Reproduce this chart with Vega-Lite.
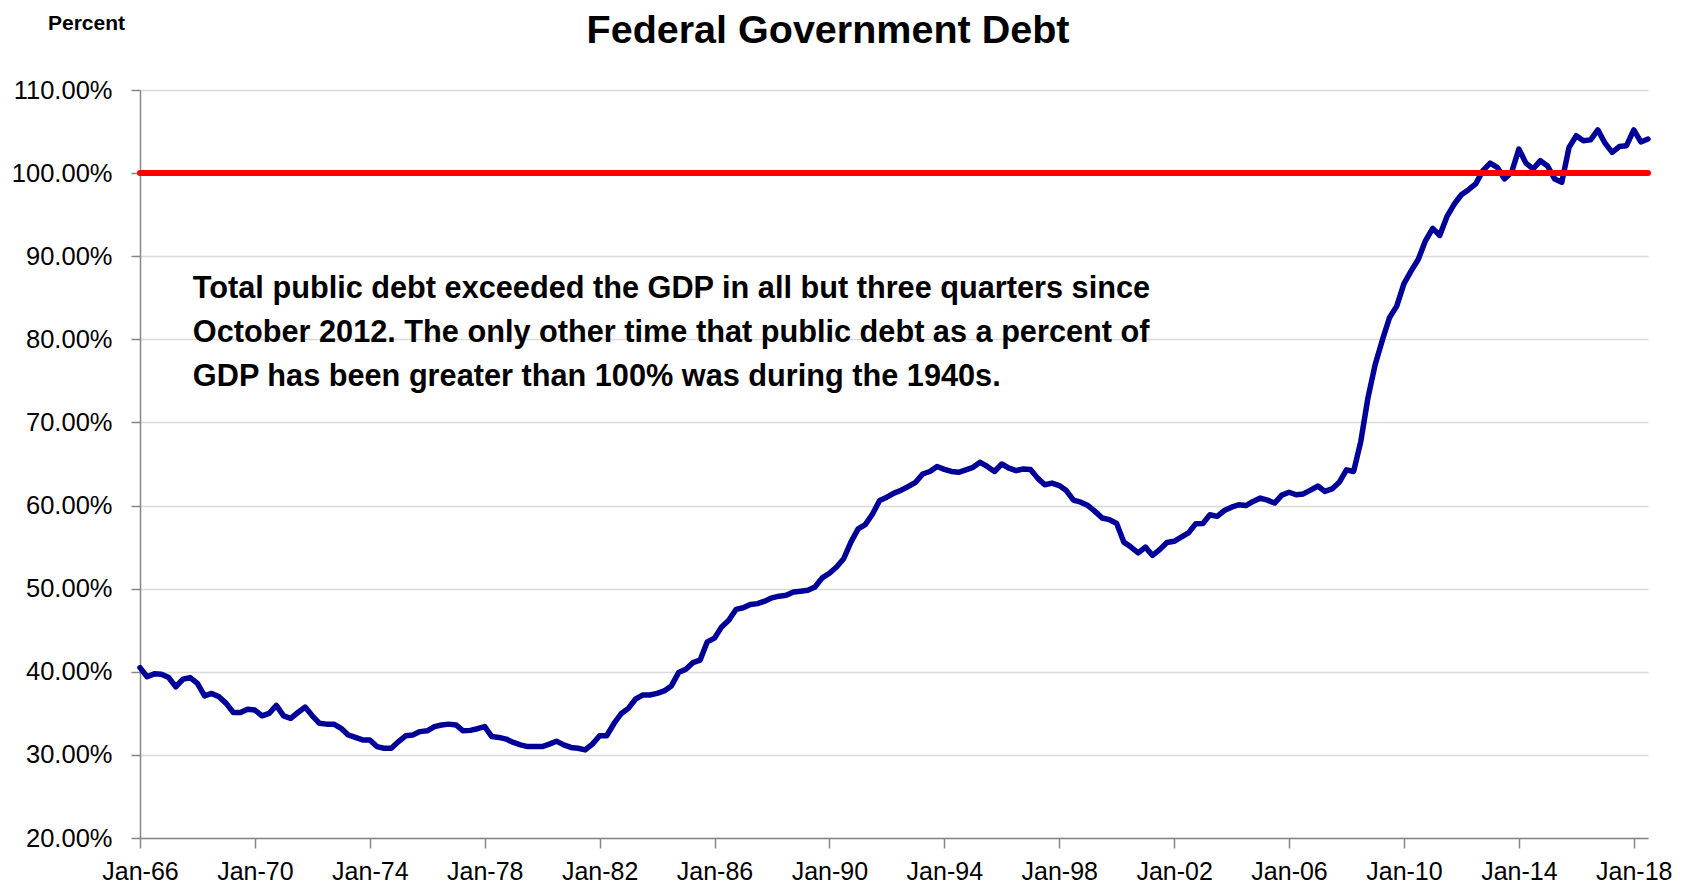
{
  "$schema": "https://vega.github.io/schema/vega-lite/v6.json",
  "width": 1508,
  "height": 748,
  "autosize": {"type": "none"},
  "padding": {"left": 140, "top": 90, "right": 46, "bottom": 51},
  "background": "white",
  "config": {
    "view": {"stroke": null},
    "font": "Liberation Sans, Arial, sans-serif"
  },
  "title": {
    "text": "Federal Government Debt",
    "fontSize": 39.5,
    "fontWeight": "bold",
    "color": "black",
    "anchor": "middle",
    "dx": -66,
    "dy": 39,
    "offset": 0
  },
  "datasets": {
    "debt": [
      {"date": "1966-01-01", "debt": 40.5}, {"date": "1966-04-01", "debt": 39.4}, {"date": "1966-07-01", "debt": 39.75}, {"date": "1966-10-01", "debt": 39.7},
      {"date": "1967-01-01", "debt": 39.3}, {"date": "1967-04-01", "debt": 38.2}, {"date": "1967-07-01", "debt": 39.1}, {"date": "1967-10-01", "debt": 39.3},
      {"date": "1968-01-01", "debt": 38.6}, {"date": "1968-04-01", "debt": 37.1}, {"date": "1968-07-01", "debt": 37.4}, {"date": "1968-10-01", "debt": 37.0},
      {"date": "1969-01-01", "debt": 36.2}, {"date": "1969-04-01", "debt": 35.1}, {"date": "1969-07-01", "debt": 35.1}, {"date": "1969-10-01", "debt": 35.5},
      {"date": "1970-01-01", "debt": 35.4}, {"date": "1970-04-01", "debt": 34.7}, {"date": "1970-07-01", "debt": 35.0}, {"date": "1970-10-01", "debt": 35.95},
      {"date": "1971-01-01", "debt": 34.7}, {"date": "1971-04-01", "debt": 34.4}, {"date": "1971-07-01", "debt": 35.1}, {"date": "1971-10-01", "debt": 35.75},
      {"date": "1972-01-01", "debt": 34.7}, {"date": "1972-04-01", "debt": 33.8}, {"date": "1972-07-01", "debt": 33.7}, {"date": "1972-10-01", "debt": 33.7},
      {"date": "1973-01-01", "debt": 33.2}, {"date": "1973-04-01", "debt": 32.4}, {"date": "1973-07-01", "debt": 32.1}, {"date": "1973-10-01", "debt": 31.8},
      {"date": "1974-01-01", "debt": 31.8}, {"date": "1974-04-01", "debt": 31.0}, {"date": "1974-07-01", "debt": 30.8}, {"date": "1974-10-01", "debt": 30.8},
      {"date": "1975-01-01", "debt": 31.6}, {"date": "1975-04-01", "debt": 32.3}, {"date": "1975-07-01", "debt": 32.4}, {"date": "1975-10-01", "debt": 32.8},
      {"date": "1976-01-01", "debt": 32.9}, {"date": "1976-04-01", "debt": 33.4}, {"date": "1976-07-01", "debt": 33.6}, {"date": "1976-10-01", "debt": 33.7},
      {"date": "1977-01-01", "debt": 33.6}, {"date": "1977-04-01", "debt": 32.9}, {"date": "1977-07-01", "debt": 32.95}, {"date": "1977-10-01", "debt": 33.15},
      {"date": "1978-01-01", "debt": 33.4}, {"date": "1978-04-01", "debt": 32.2}, {"date": "1978-07-01", "debt": 32.1}, {"date": "1978-10-01", "debt": 31.9},
      {"date": "1979-01-01", "debt": 31.5}, {"date": "1979-04-01", "debt": 31.2}, {"date": "1979-07-01", "debt": 31.0}, {"date": "1979-10-01", "debt": 31.0},
      {"date": "1980-01-01", "debt": 31.0}, {"date": "1980-04-01", "debt": 31.3}, {"date": "1980-07-01", "debt": 31.65}, {"date": "1980-10-01", "debt": 31.2},
      {"date": "1981-01-01", "debt": 30.9}, {"date": "1981-04-01", "debt": 30.8}, {"date": "1981-07-01", "debt": 30.6}, {"date": "1981-10-01", "debt": 31.3},
      {"date": "1982-01-01", "debt": 32.3}, {"date": "1982-04-01", "debt": 32.3}, {"date": "1982-07-01", "debt": 33.75}, {"date": "1982-10-01", "debt": 34.95},
      {"date": "1983-01-01", "debt": 35.6}, {"date": "1983-04-01", "debt": 36.7}, {"date": "1983-07-01", "debt": 37.2}, {"date": "1983-10-01", "debt": 37.2},
      {"date": "1984-01-01", "debt": 37.4}, {"date": "1984-04-01", "debt": 37.7}, {"date": "1984-07-01", "debt": 38.3}, {"date": "1984-10-01", "debt": 39.9},
      {"date": "1985-01-01", "debt": 40.3}, {"date": "1985-04-01", "debt": 41.1}, {"date": "1985-07-01", "debt": 41.4}, {"date": "1985-10-01", "debt": 43.6},
      {"date": "1986-01-01", "debt": 44.05}, {"date": "1986-04-01", "debt": 45.4}, {"date": "1986-07-01", "debt": 46.2}, {"date": "1986-10-01", "debt": 47.5},
      {"date": "1987-01-01", "debt": 47.7}, {"date": "1987-04-01", "debt": 48.1}, {"date": "1987-07-01", "debt": 48.2}, {"date": "1987-10-01", "debt": 48.5},
      {"date": "1988-01-01", "debt": 48.9}, {"date": "1988-04-01", "debt": 49.1}, {"date": "1988-07-01", "debt": 49.2}, {"date": "1988-10-01", "debt": 49.6},
      {"date": "1989-01-01", "debt": 49.7}, {"date": "1989-04-01", "debt": 49.8}, {"date": "1989-07-01", "debt": 50.2}, {"date": "1989-10-01", "debt": 51.3},
      {"date": "1990-01-01", "debt": 51.85}, {"date": "1990-04-01", "debt": 52.6}, {"date": "1990-07-01", "debt": 53.6}, {"date": "1990-10-01", "debt": 55.6},
      {"date": "1991-01-01", "debt": 57.2}, {"date": "1991-04-01", "debt": 57.7}, {"date": "1991-07-01", "debt": 58.95}, {"date": "1991-10-01", "debt": 60.6},
      {"date": "1992-01-01", "debt": 61.0}, {"date": "1992-04-01", "debt": 61.5}, {"date": "1992-07-01", "debt": 61.85}, {"date": "1992-10-01", "debt": 62.3},
      {"date": "1993-01-01", "debt": 62.8}, {"date": "1993-04-01", "debt": 63.8}, {"date": "1993-07-01", "debt": 64.1}, {"date": "1993-10-01", "debt": 64.7},
      {"date": "1994-01-01", "debt": 64.35}, {"date": "1994-04-01", "debt": 64.1}, {"date": "1994-07-01", "debt": 64.0}, {"date": "1994-10-01", "debt": 64.3},
      {"date": "1995-01-01", "debt": 64.6}, {"date": "1995-04-01", "debt": 65.2}, {"date": "1995-07-01", "debt": 64.7}, {"date": "1995-10-01", "debt": 64.1},
      {"date": "1996-01-01", "debt": 65.0}, {"date": "1996-04-01", "debt": 64.5}, {"date": "1996-07-01", "debt": 64.2}, {"date": "1996-10-01", "debt": 64.4},
      {"date": "1997-01-01", "debt": 64.35}, {"date": "1997-04-01", "debt": 63.3}, {"date": "1997-07-01", "debt": 62.5}, {"date": "1997-10-01", "debt": 62.7},
      {"date": "1998-01-01", "debt": 62.4}, {"date": "1998-04-01", "debt": 61.8}, {"date": "1998-07-01", "debt": 60.65}, {"date": "1998-10-01", "debt": 60.4},
      {"date": "1999-01-01", "debt": 60.0}, {"date": "1999-04-01", "debt": 59.3}, {"date": "1999-07-01", "debt": 58.5}, {"date": "1999-10-01", "debt": 58.3},
      {"date": "2000-01-01", "debt": 57.85}, {"date": "2000-04-01", "debt": 55.6}, {"date": "2000-07-01", "debt": 55.0}, {"date": "2000-10-01", "debt": 54.3},
      {"date": "2001-01-01", "debt": 55.0}, {"date": "2001-04-01", "debt": 54.0}, {"date": "2001-07-01", "debt": 54.7}, {"date": "2001-10-01", "debt": 55.55},
      {"date": "2002-01-01", "debt": 55.7}, {"date": "2002-04-01", "debt": 56.2}, {"date": "2002-07-01", "debt": 56.7}, {"date": "2002-10-01", "debt": 57.8},
      {"date": "2003-01-01", "debt": 57.85}, {"date": "2003-04-01", "debt": 58.9}, {"date": "2003-07-01", "debt": 58.7}, {"date": "2003-10-01", "debt": 59.4},
      {"date": "2004-01-01", "debt": 59.8}, {"date": "2004-04-01", "debt": 60.1}, {"date": "2004-07-01", "debt": 60.0}, {"date": "2004-10-01", "debt": 60.5},
      {"date": "2005-01-01", "debt": 60.9}, {"date": "2005-04-01", "debt": 60.65}, {"date": "2005-07-01", "debt": 60.3}, {"date": "2005-10-01", "debt": 61.25},
      {"date": "2006-01-01", "debt": 61.6}, {"date": "2006-04-01", "debt": 61.3}, {"date": "2006-07-01", "debt": 61.4}, {"date": "2006-10-01", "debt": 61.85},
      {"date": "2007-01-01", "debt": 62.35}, {"date": "2007-04-01", "debt": 61.7}, {"date": "2007-07-01", "debt": 62.0}, {"date": "2007-10-01", "debt": 62.8},
      {"date": "2008-01-01", "debt": 64.3}, {"date": "2008-04-01", "debt": 64.1}, {"date": "2008-07-01", "debt": 67.7}, {"date": "2008-10-01", "debt": 73.0},
      {"date": "2009-01-01", "debt": 77.0}, {"date": "2009-04-01", "debt": 79.9}, {"date": "2009-07-01", "debt": 82.6}, {"date": "2009-10-01", "debt": 84.0},
      {"date": "2010-01-01", "debt": 86.7}, {"date": "2010-04-01", "debt": 88.2}, {"date": "2010-07-01", "debt": 89.6}, {"date": "2010-10-01", "debt": 91.85},
      {"date": "2011-01-01", "debt": 93.35}, {"date": "2011-04-01", "debt": 92.5}, {"date": "2011-07-01", "debt": 94.75}, {"date": "2011-10-01", "debt": 96.25},
      {"date": "2012-01-01", "debt": 97.4}, {"date": "2012-04-01", "debt": 98.0}, {"date": "2012-07-01", "debt": 98.7}, {"date": "2012-10-01", "debt": 100.3},
      {"date": "2013-01-01", "debt": 101.2}, {"date": "2013-04-01", "debt": 100.7}, {"date": "2013-07-01", "debt": 99.3}, {"date": "2013-10-01", "debt": 100.1},
      {"date": "2014-01-01", "debt": 102.9}, {"date": "2014-04-01", "debt": 101.2}, {"date": "2014-07-01", "debt": 100.5}, {"date": "2014-10-01", "debt": 101.5},
      {"date": "2015-01-01", "debt": 100.85}, {"date": "2015-04-01", "debt": 99.3}, {"date": "2015-07-01", "debt": 98.9}, {"date": "2015-10-01", "debt": 103.1},
      {"date": "2016-01-01", "debt": 104.5}, {"date": "2016-04-01", "debt": 103.9}, {"date": "2016-07-01", "debt": 104.0}, {"date": "2016-10-01", "debt": 105.2},
      {"date": "2017-01-01", "debt": 103.6}, {"date": "2017-04-01", "debt": 102.5}, {"date": "2017-07-01", "debt": 103.2}, {"date": "2017-10-01", "debt": 103.3},
      {"date": "2018-01-01", "debt": 105.2}, {"date": "2018-04-01", "debt": 103.75}, {"date": "2018-07-01", "debt": 104.1}
    ]
  },
  "layer": [
    {
      "data": {"name": "debt"},
      "mark": {"type": "line", "color": "#000099", "strokeWidth": 5.5, "strokeJoin": "round", "strokeCap": "round"},
      "encoding": {
        "x": {
          "field": "date",
          "type": "temporal",
          "scale": {
            "type": "utc",
            "domain": [
              {"year": 1966, "month": 1, "date": 1, "utc": true},
              {"year": 2018, "month": 7, "date": 1, "utc": true}
            ],
            "nice": false
          },
          "axis": {
            "title": null,
            "values": [
              {"year": 1966, "month": 1, "date": 1, "utc": true},
              {"year": 1970, "month": 1, "date": 1, "utc": true},
              {"year": 1974, "month": 1, "date": 1, "utc": true},
              {"year": 1978, "month": 1, "date": 1, "utc": true},
              {"year": 1982, "month": 1, "date": 1, "utc": true},
              {"year": 1986, "month": 1, "date": 1, "utc": true},
              {"year": 1990, "month": 1, "date": 1, "utc": true},
              {"year": 1994, "month": 1, "date": 1, "utc": true},
              {"year": 1998, "month": 1, "date": 1, "utc": true},
              {"year": 2002, "month": 1, "date": 1, "utc": true},
              {"year": 2006, "month": 1, "date": 1, "utc": true},
              {"year": 2010, "month": 1, "date": 1, "utc": true},
              {"year": 2014, "month": 1, "date": 1, "utc": true},
              {"year": 2018, "month": 1, "date": 1, "utc": true}
            ],
            "format": "%b-%y",
            "grid": false,
            "labelFontSize": 25,
            "labelColor": "black",
            "labelFlush": false,
            "labelOverlap": false,
            "labelPadding": 11,
            "tickSize": 10,
            "tickWidth": 1.5,
            "tickColor": "#868686",
            "domainColor": "#868686",
            "domainWidth": 1.5
          }
        },
        "y": {
          "field": "debt",
          "type": "quantitative",
          "scale": {"domain": [20, 110], "nice": false, "zero": false},
          "axis": {
            "values": [20, 30, 40, 50, 60, 70, 80, 90, 100, 110],
            "labelExpr": "format(datum.value, '.2f') + '%'",
            "labelFontSize": 25.5,
            "labelColor": "black",
            "labelPadding": 19,
            "tickSize": 9,
            "tickWidth": 1.5,
            "tickColor": "#868686",
            "domainColor": "#868686",
            "domainWidth": 1.5,
            "grid": true,
            "gridColor": "#d9d9d9",
            "gridWidth": 1.5,
            "title": "Percent",
            "titleAngle": 0,
            "titleAlign": "center",
            "titleBaseline": "middle",
            "titleX": -54,
            "titleY": -67,
            "titleFontSize": 21,
            "titleFontWeight": "bold",
            "titleColor": "black"
          }
        }
      }
    },
    {
      "data": {"values": [{}]},
      "mark": {"type": "rule", "color": "#ff0000", "strokeWidth": 6, "strokeCap": "round"},
      "encoding": {"y": {"datum": 100}}
    },
    {
      "data": {"values": [{}]},
      "mark": {
        "type": "text",
        "align": "left",
        "baseline": "alphabetic",
        "fontSize": 30.7,
        "fontWeight": "bold",
        "color": "black",
        "lineHeight": 44
      },
      "encoding": {
        "x": {"datum": {"year": 1967, "month": 11, "date": 4, "utc": true}},
        "y": {"datum": 85},
        "text": {"value": [
          "Total public debt exceeded the GDP in all but three quarters since",
          "October 2012. The only other time that public debt as a percent of",
          "GDP has been greater than 100% was during the 1940s."
        ]}
      }
    }
  ]
}
